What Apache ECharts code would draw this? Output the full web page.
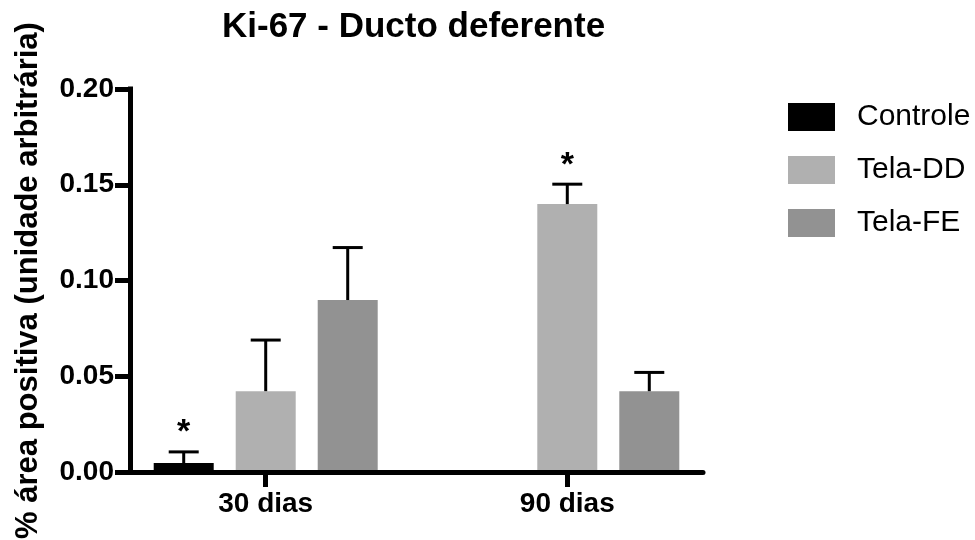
<!DOCTYPE html>
<html>
<head>
<meta charset="utf-8">
<script src="https://cdn.jsdelivr.net/npm/echarts@6/dist/echarts.min.js"></script>
<style>
html,body{margin:0;padding:0;background:#fff;}
#chart{width:975px;height:540px;}
</style>
</head>
<body>
<div id="chart"></div>
<script>
// ---- data ----
const categories = ['30 dias', '90 dias'];
const seriesNames = ['Controle', 'Tela-DD', 'Tela-FE'];
const controleMean = [0.0047, 0];
const controleErr = [0.0058, 0];
const controleSig = [1, 0];
const telaDDMean = [0.0422, 0.1399];
const telaDDErr = [0.0267, 0.0104];
const telaDDSig = [0, 1];
const telaFEMean = [0.0898, 0.0422];
const telaFEErr = [0.0274, 0.0098];
const telaFESig = [0, 0];
const yTicks = [0, 0.05, 0.10, 0.15, 0.20];

// ---- style ----
const FONT = '"Liberation Sans", Arial, Helvetica, sans-serif';
const colors = ['#000000', '#b0b0b0', '#929292'];
const offsets = [-82, 0, 82];
const BAR_W = 60;
const CAP_W = 30;

const means = [controleMean, telaDDMean, telaFEMean];
const errs = [controleErr, telaDDErr, telaFEErr];
const sigs = [controleSig, telaDDSig, telaFESig];

function makeRender(si) {
  return function (params, api) {
    const x = api.value(0), y = api.value(1), e = api.value(2), s = api.value(3);
    if (!y) return null;
    const base = api.coord([x, 0]);
    const top = api.coord([x, y]);
    const cap = api.coord([x, y + e]);
    const cx = base[0] + offsets[si];
    const children = [
      { type: 'rect', shape: { x: cx - BAR_W / 2, y: top[1], width: BAR_W, height: base[1] - top[1] },
        style: { fill: colors[si] } },
      { type: 'line', shape: { x1: cx, y1: top[1], x2: cx, y2: cap[1] },
        style: { stroke: '#000', lineWidth: 3 } },
      { type: 'line', shape: { x1: cx - CAP_W / 2, y1: cap[1], x2: cx + CAP_W / 2, y2: cap[1] },
        style: { stroke: '#000', lineWidth: 3 } }
    ];
    if (s) {
      children.push({ type: 'text', style: { text: '*', x: cx, y: cap[1] - 19, align: 'center', verticalAlign: 'middle',
        font: 'bold 34px ' + FONT, fill: '#000' } });
    }
    return { type: 'group', children: children };
  };
}

const series = seriesNames.map((name, si) => ({
  name: name,
  type: 'custom',
  itemStyle: { color: colors[si] },
  renderItem: makeRender(si),
  data: categories.map((c, i) => [i + 1, means[si][i], errs[si][i], sigs[si][i]]),
  z: 2
}));

const chart = echarts.init(document.getElementById('chart'), null, { renderer: 'canvas' });
chart.setOption({
  animation: false,
  backgroundColor: '#fff',
  title: {
    text: 'Ki-67 - Ducto deferente',
    left: 222, top: 10, padding: 0,
    textStyle: { fontFamily: FONT, fontSize: 35, fontWeight: 'bold', color: '#000' }
  },
  legend: {
    orient: 'vertical', left: 788, top: 102, padding: 0,
    itemWidth: 47, itemHeight: 28, itemGap: 23, icon: 'rect',
    textStyle: { fontFamily: FONT, fontSize: 30, color: '#000', padding: [0, 0, 0, 17] },
    data: seriesNames
  },
  grid: { left: 130, right: 272, top: 89, bottom: 68, containLabel: false, outerBoundsMode: 'none' },
  xAxis: {
    type: 'value', min: 0.55, max: 2.45, z: 10,
    splitLine: { show: false },
    axisLine: { show: true, lineStyle: { color: '#000', width: 5 } },
    axisTick: { show: true, length: 15, lineStyle: { color: '#000', width: 5 }, customValues: [1, 2] },
    axisLabel: { show: true, margin: 18, customValues: [1, 2],
      formatter: v => categories[Math.round(v) - 1] || '',
      fontFamily: FONT, fontSize: 28, fontWeight: 'bold', color: '#000' }
  },
  yAxis: {
    type: 'value', min: 0, max: 0.2, interval: 0.05, z: 10,
    name: '% área positiva (unidade arbitrária)',
    nameLocation: 'middle', nameGap: 86,
    nameTextStyle: { fontFamily: FONT, fontSize: 31, fontWeight: 'bold', color: '#000' },
    splitLine: { show: false },
    axisLine: { show: true, lineStyle: { color: '#000', width: 5, cap: 'square' } },
    axisTick: { show: true, length: 15, lineStyle: { color: '#000', width: 5 } },
    axisLabel: { margin: 16, fontFamily: FONT, fontSize: 28, fontWeight: 'bold', color: '#000',
      formatter: v => { const t = yTicks.find(k => Math.abs(k - v) < 1e-9); return (t !== undefined ? t : v).toFixed(2); } }
  },
  series: series
});
</script>
</body>
</html>
